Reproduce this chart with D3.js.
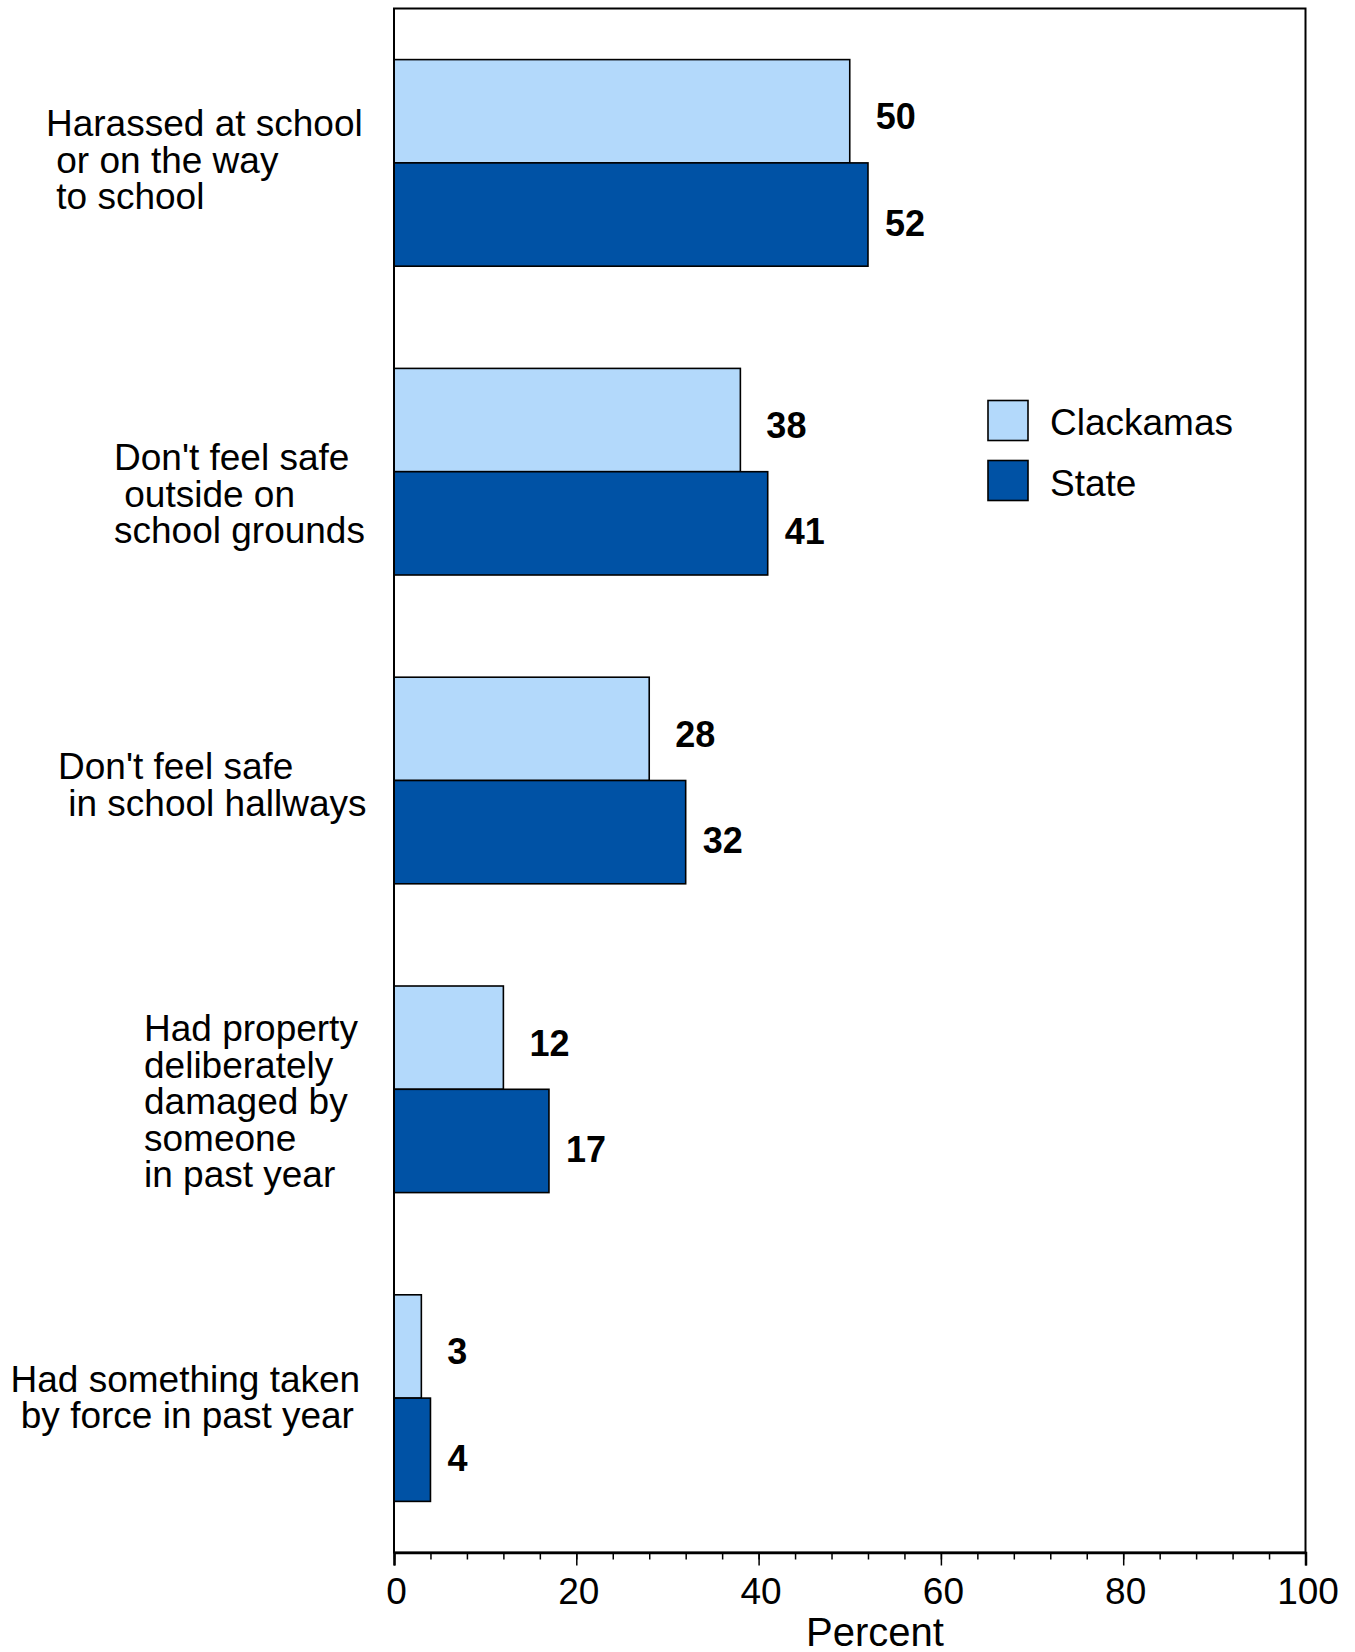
<!DOCTYPE html>
<html>
<head>
<meta charset="utf-8">
<script src="https://cdn.jsdelivr.net/npm/d3@7"></script>
<style>
  html, body { margin: 0; padding: 0; background: #fff; }
  svg { display: block; }
  text { font-family: "Liberation Sans", Arial, Helvetica, sans-serif; fill: #000; }
</style>
</head>
<body>
<svg id="chart" width="1355" height="1652"></svg>
<script>
// ---- Data ----
const categories = [
  "Harassed at school\n or on the way\n to school",
  "Don't feel safe\n outside on\nschool grounds",
  "Don't feel safe\n in school hallways",
  "Had property\ndeliberately\ndamaged by\nsomeone\nin past year",
  "Had something taken\n by force in past year"
];
const seriesNames = ["Clackamas", "State"];
const clackamasValues = [50, 38, 28, 12, 3];
const stateValues = [52, 41, 32, 17, 4];
const xTickValues = [0, 20, 40, 60, 80, 100];
const xAxisTitle = "Percent";

// ---- Layout / style ----
const plot = { left: 394, right: 1305.5, top: 8.5, bottom: 1552.5 };
const colors = ["#b3d9fb", "#0052a5"];
const labelLeft = [46, 114, 58, 144, 10.5];   // left edge of category label blocks
const labelNudge = [-3, 22, 4, 12, -1];       // vertical nudge of category label blocks
const valueDx = [26, 17];
const valueDy = [18, 21];
const fs = 37;
const lineH = 36.4;

const svg = d3.select("#chart");

const series = [clackamasValues, stateValues];
const rows = categories.map((c, i) => ({ cat: c, vals: series.map(s => s[i]) }));

const x = d3.scaleLinear().domain([0, 100]).range([plot.left, plot.right]);
const y0 = d3.scaleBand().domain(d3.range(categories.length))
  .range([plot.top, plot.bottom]).paddingInner(0.331).paddingOuter(0.1655);
const y1 = d3.scaleBand().domain(d3.range(seriesNames.length)).range([0, y0.bandwidth()]);

// Bars
const g = svg.append("g");
rows.forEach((r, i) => {
  r.vals.forEach((v, j) => {
    g.append("rect")
      .attr("x", x(0))
      .attr("y", y0(i) + y1(j))
      .attr("width", x(v) - x(0))
      .attr("height", y1.bandwidth())
      .attr("fill", colors[j])
      .attr("stroke", "#000")
      .attr("stroke-width", 1.6);
    g.append("text")
      .attr("x", x(v) + valueDx[j])
      .attr("y", y0(i) + y1(j) + y1.bandwidth() / 2 + valueDy[j])
      .attr("font-size", 36)
      .attr("font-weight", "bold")
      .text(v);
  });
});

// Frame
svg.append("rect")
  .attr("x", plot.left).attr("y", plot.top)
  .attr("width", plot.right - plot.left).attr("height", plot.bottom - plot.top)
  .attr("fill", "none").attr("stroke", "#000").attr("stroke-width", 2);

// X axis: minor ticks
const axisG = svg.append("g").attr("transform", `translate(0,${plot.bottom})`);
axisG.call(d3.axisBottom(x).tickValues(d3.range(0, 101, 4)).tickSize(7).tickFormat(""))
  .call(a => a.select(".domain").remove())
  .call(a => a.selectAll("line").attr("stroke", "#000").attr("stroke-width", 1.5));
const majorG = svg.append("g").attr("transform", `translate(0,${plot.bottom})`);
majorG.call(d3.axisBottom(x).tickValues(xTickValues).tickSize(13).tickPadding(0).tickFormat(d3.format("d")))
  .call(a => a.select(".domain").attr("stroke", "#000").attr("stroke-width", 2.5))
  .call(a => a.selectAll("line").attr("stroke", "#000").attr("stroke-width", 1.5))
  .call(a => a.selectAll("text")
    .attr("font-size", fs)
    .attr("font-family", "Liberation Sans, Arial, sans-serif")
    .attr("fill", "#000")
    .attr("dy", null)
    .attr("y", 51)
    .attr("dx", 2));

svg.append("text")
  .attr("x", 875).attr("y", 1646)
  .attr("text-anchor", "middle")
  .attr("font-size", 40)
  .text(xAxisTitle);

// Category labels: lines left-aligned within each block
categories.forEach((c, i) => {
  const lines = c.split("\n");
  const t = svg.append("text")
    .attr("font-size", fs)
    .style("white-space", "pre");
  const cy = y0(i) + y0.bandwidth() / 2 + labelNudge[i];
  const firstBase = cy - (lines.length - 1) * lineH / 2 + fs * 0.35;
  lines.forEach((l, k) => t.append("tspan")
    .attr("x", labelLeft[i])
    .attr("y", firstBase + k * lineH)
    .text(l));
});

// Legend
const legend = svg.append("g");
seriesNames.forEach((n, j) => {
  legend.append("rect")
    .attr("x", 988).attr("y", 400.5 + j * 60)
    .attr("width", 40).attr("height", 40)
    .attr("fill", colors[j]).attr("stroke", "#000").attr("stroke-width", 1.6);
  legend.append("text")
    .attr("x", 1050).attr("y", 435 + j * 61)
    .attr("font-size", fs)
    .text(n);
});
</script>
</body>
</html>
